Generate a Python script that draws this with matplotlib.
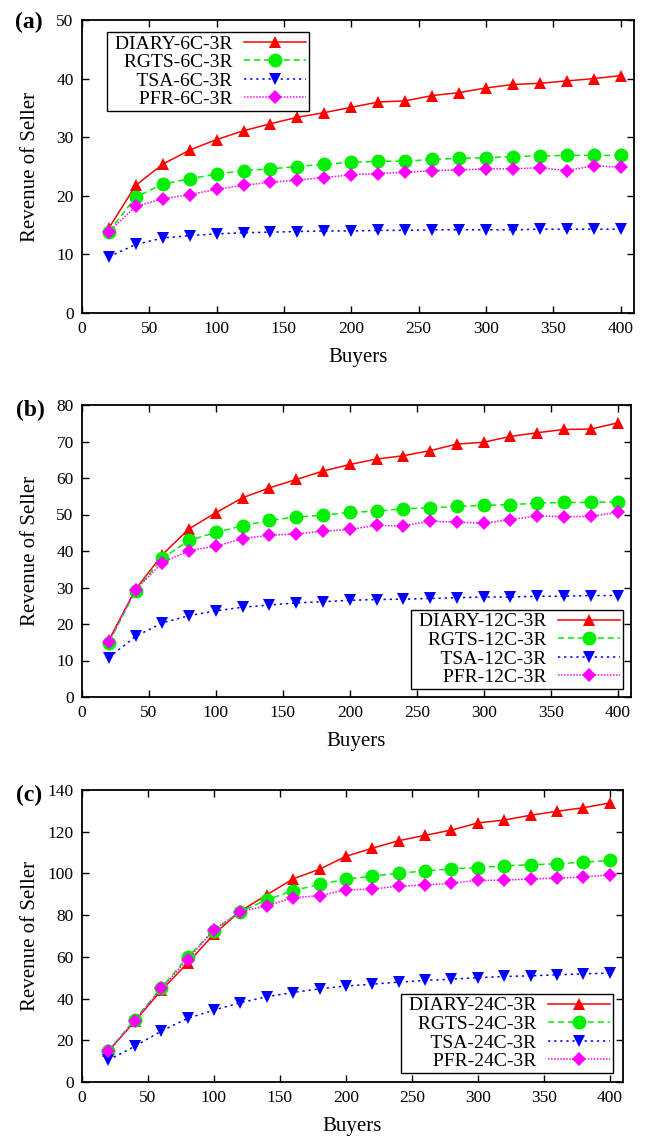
import numpy as np
import matplotlib.pyplot as plt

plt.rcParams['font.family'] = ['Liberation Serif', 'DejaVu Serif']
plt.rcParams['mathtext.fontset'] = 'stix'

# Number of buyers (x axis, same for all panels)
buyers = list(range(20, 401, 20))

# (a) 6 channels, 3 radios
diary_6 = [14.5, 21.8, 25.4, 27.8, 29.6, 31.1, 32.3, 33.4, 34.2, 35.1,
           36.0, 36.2, 37.1, 37.6, 38.4, 39.0, 39.2, 39.6, 40.0, 40.5]
rgts_6 = [13.9, 19.8, 22.0, 22.9, 23.7, 24.3, 24.6, 25.0, 25.4, 25.7,
          25.9, 25.9, 26.2, 26.4, 26.5, 26.7, 26.8, 26.9, 26.9, 26.9]
tsa_6 = [9.6, 11.7, 12.8, 13.2, 13.5, 13.7, 13.8, 13.9, 14.0, 14.0,
         14.1, 14.1, 14.2, 14.2, 14.2, 14.2, 14.3, 14.3, 14.3, 14.3]
pfr_6 = [13.9, 18.2, 19.5, 20.2, 21.1, 21.8, 22.3, 22.7, 23.1, 23.6,
         23.8, 24.0, 24.3, 24.4, 24.6, 24.6, 24.8, 24.3, 25.1, 24.9]

# (b) 12 channels, 3 radios
diary_12 = [15.5, 29.5, 39.0, 46.1, 50.5, 54.6, 57.3, 59.6, 61.9, 63.7,
            65.2, 66.1, 67.5, 69.3, 69.8, 71.4, 72.4, 73.3, 73.4, 75.1]
rgts_12 = [14.9, 29.1, 38.0, 42.9, 45.1, 46.9, 48.4, 49.3, 49.8, 50.6,
           50.9, 51.6, 51.8, 52.2, 52.5, 52.7, 53.1, 53.3, 53.3, 53.5]
tsa_12 = [10.8, 16.6, 20.3, 22.3, 23.6, 24.6, 25.2, 25.8, 26.1, 26.5,
          26.7, 26.8, 27.0, 27.2, 27.4, 27.4, 27.6, 27.6, 27.8, 27.8]
pfr_12 = [15.1, 29.4, 36.8, 40.1, 41.3, 43.4, 44.3, 44.7, 45.4, 45.9,
          47.0, 46.9, 48.2, 47.9, 47.6, 48.6, 49.6, 49.4, 49.5, 50.6]

# (c) 24 channels, 3 radios
diary_24 = [14.8, 29.1, 43.9, 57.0, 70.9, 81.9, 89.7, 97.4, 102.0, 108.2,
            112.1, 115.7, 118.3, 120.8, 124.2, 125.6, 127.9, 129.8, 131.5, 133.8]
rgts_24 = [15.0, 29.9, 45.0, 59.9, 72.6, 81.7, 87.3, 91.8, 94.7, 97.2,
           98.7, 100.1, 101.2, 102.2, 102.8, 103.6, 104.2, 104.6, 105.4, 106.2]
tsa_24 = [10.5, 17.1, 24.4, 30.5, 34.5, 38.0, 40.9, 42.9, 44.7, 46.0,
          46.9, 47.9, 48.7, 49.3, 50.0, 50.6, 50.9, 51.4, 51.9, 52.2]
pfr_24 = [14.8, 29.4, 44.9, 58.7, 73.1, 81.7, 84.5, 88.3, 89.4, 92.1,
          92.5, 93.9, 94.4, 95.3, 96.7, 96.7, 97.4, 97.7, 98.3, 99.3]

panels = [
    ('(a)', '6C', [diary_6, rgts_6, tsa_6, pfr_6], 50, 10),
    ('(b)', '12C', [diary_12, rgts_12, tsa_12, pfr_12], 80, 10),
    ('(c)', '24C', [diary_24, rgts_24, tsa_24, pfr_24], 140, 20),
]
methods = ['DIARY', 'RGTS', 'TSA', 'PFR']
colors = ['#ff0000', '#00ee00', '#0000ff', '#ff00ff']
markers = ['^', 'o', 'v', 'D']
msizes = [8.5, 10, 8.5, 7]
lstyles = ['-', (0, (4, 2.5)), (0, (1.5, 2.5)), (0, (1, 1))]

W, H = 646, 1142
fig = plt.figure(figsize=(W / 100, H / 100), dpi=100)

# axes boxes in pixels: left, top, right, bottom
boxes = [(82, 20, 634, 313), (82, 405, 631, 697), (82, 790, 623, 1082)]
# legend anchors in pixels and loc
leg_anchor = [((107, 32), 'upper left'), ((623, 689), 'lower right'),
              ((613, 1073), 'lower right')]
tag_pos = [(29, 22), (30, 410), (29, 795)]

for (tag, ch, series, ymax, ystep), (l, t, r, b), (anc, loc), (tx, ty) in zip(
        panels, boxes, leg_anchor, tag_pos):
    ax = fig.add_axes([l / W, 1 - b / H, (r - l) / W, (b - t) / H])
    for name, ys, c, m, ms, ls in zip(methods, series, colors, markers, msizes, lstyles):
        # leading space gives the legend text some room from the frame
        ax.plot(buyers, ys, color=c, marker=m, markersize=ms, linestyle=ls,
                linewidth=1.1, markeredgewidth=0, label=f' {name}-{ch}-3R')
    ax.set_xlim(0, 410)
    ax.set_ylim(0, ymax)
    ax.set_xticks(np.arange(0, 401, 50))
    ax.set_yticks(np.arange(0, ymax + 1, ystep))
    ax.tick_params(direction='in', top=True, right=True, length=5,
                   width=1, labelsize=12.5, pad=6)
    for sp in ax.spines.values():
        sp.set_linewidth(1.3)
    ax.set_xlabel('Buyers', fontsize=15, labelpad=8)
    ax.set_ylabel('Revenue of Seller', fontsize=15)
    ax.yaxis.set_label_coords(-(l - 40) / (r - l), 0.5)
    leg = ax.legend(loc=loc, bbox_to_anchor=(anc[0] / W, 1 - anc[1] / H),
                    bbox_transform=fig.transFigure, borderaxespad=0,
                    markerfirst=False, fancybox=False, framealpha=1,
                    edgecolor='black', fontsize=14, handlelength=3.2,
                    labelspacing=0.05, borderpad=0.15, handletextpad=0.6)
    leg.get_frame().set_linewidth(1.0)
    fig.text(tx / W, 1 - ty / H, tag, fontsize=17, fontweight='bold',
             ha='center', va='center')

fig.savefig('out.png', dpi=100)
